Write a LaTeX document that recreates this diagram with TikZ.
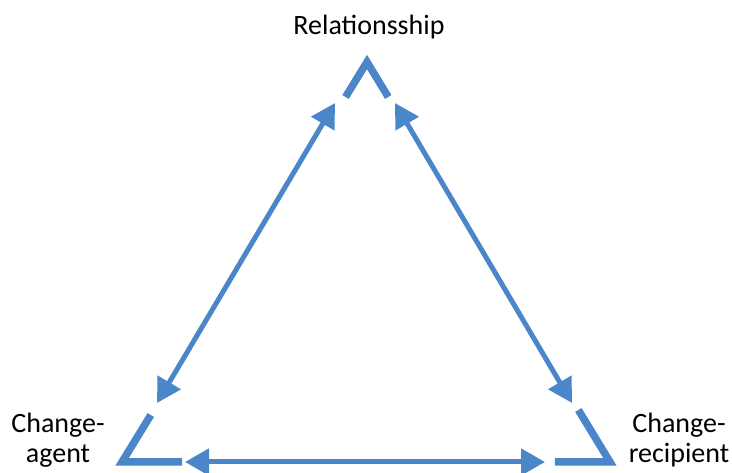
\documentclass[tikz,border=0pt]{standalone}
\usepackage{fontspec}
\setmainfont{Carlito}
\usepackage{xcolor}
\usetikzlibrary{arrows.meta, calc}

\definecolor{triblue}{HTML}{4A86C8}

\begin{document}
\begin{tikzpicture}[x=1pt, y=-1pt,
  corner/.style={draw=triblue, line width=7.5pt, line join=miter},
  link/.style={draw=triblue, line width=5pt, {Triangle[length=24pt,width=26pt]}-{Triangle[length=24pt,width=26pt]}},
  lbl/.style={font=\fontsize{28}{31}\selectfont, align=center, anchor=base, inner sep=0pt}]

\useasboundingbox (0,0) rectangle (732,473);

% vertices of the triangle
\coordinate (A) at (367,62);
\coordinate (BL) at (122,462);
\coordinate (BR) at (610,462);

% labels
\node (rel) [lbl] at (369,35) {Relationsship};
\node (agent) [lbl] at (58,463) {Change-\\agent};
\node (recip) [lbl] at (679,463) {Change-\\recipient};

% corners
\draw[corner] ($(A)!0.0875!(BL)$) -- (A) -- ($(A)!0.0875!(BR)$);
\draw[corner] ($(BL)!0.1175!(A)$) -- (BL) -- ($(BL)!0.123!(BR)$);
\draw[corner] ($(BR)!0.13!(A)$) -- (BR) -- ($(BR)!0.113!(BL)$);

% ends of the arrows
\coordinate (agent-up) at (157,403);
\coordinate (rel-left) at (335,103);
\coordinate (rel-right) at (395,103);
\coordinate (recip-up) at (572,403);
\coordinate (agent-right) at (185,462);
\coordinate (recip-left) at (545,462);

\draw[link] (agent-up) -- (rel-left);
\draw[link] (rel-right) -- (recip-up);
\draw[link] (agent-right) -- (recip-left);

\end{tikzpicture}
\end{document}
